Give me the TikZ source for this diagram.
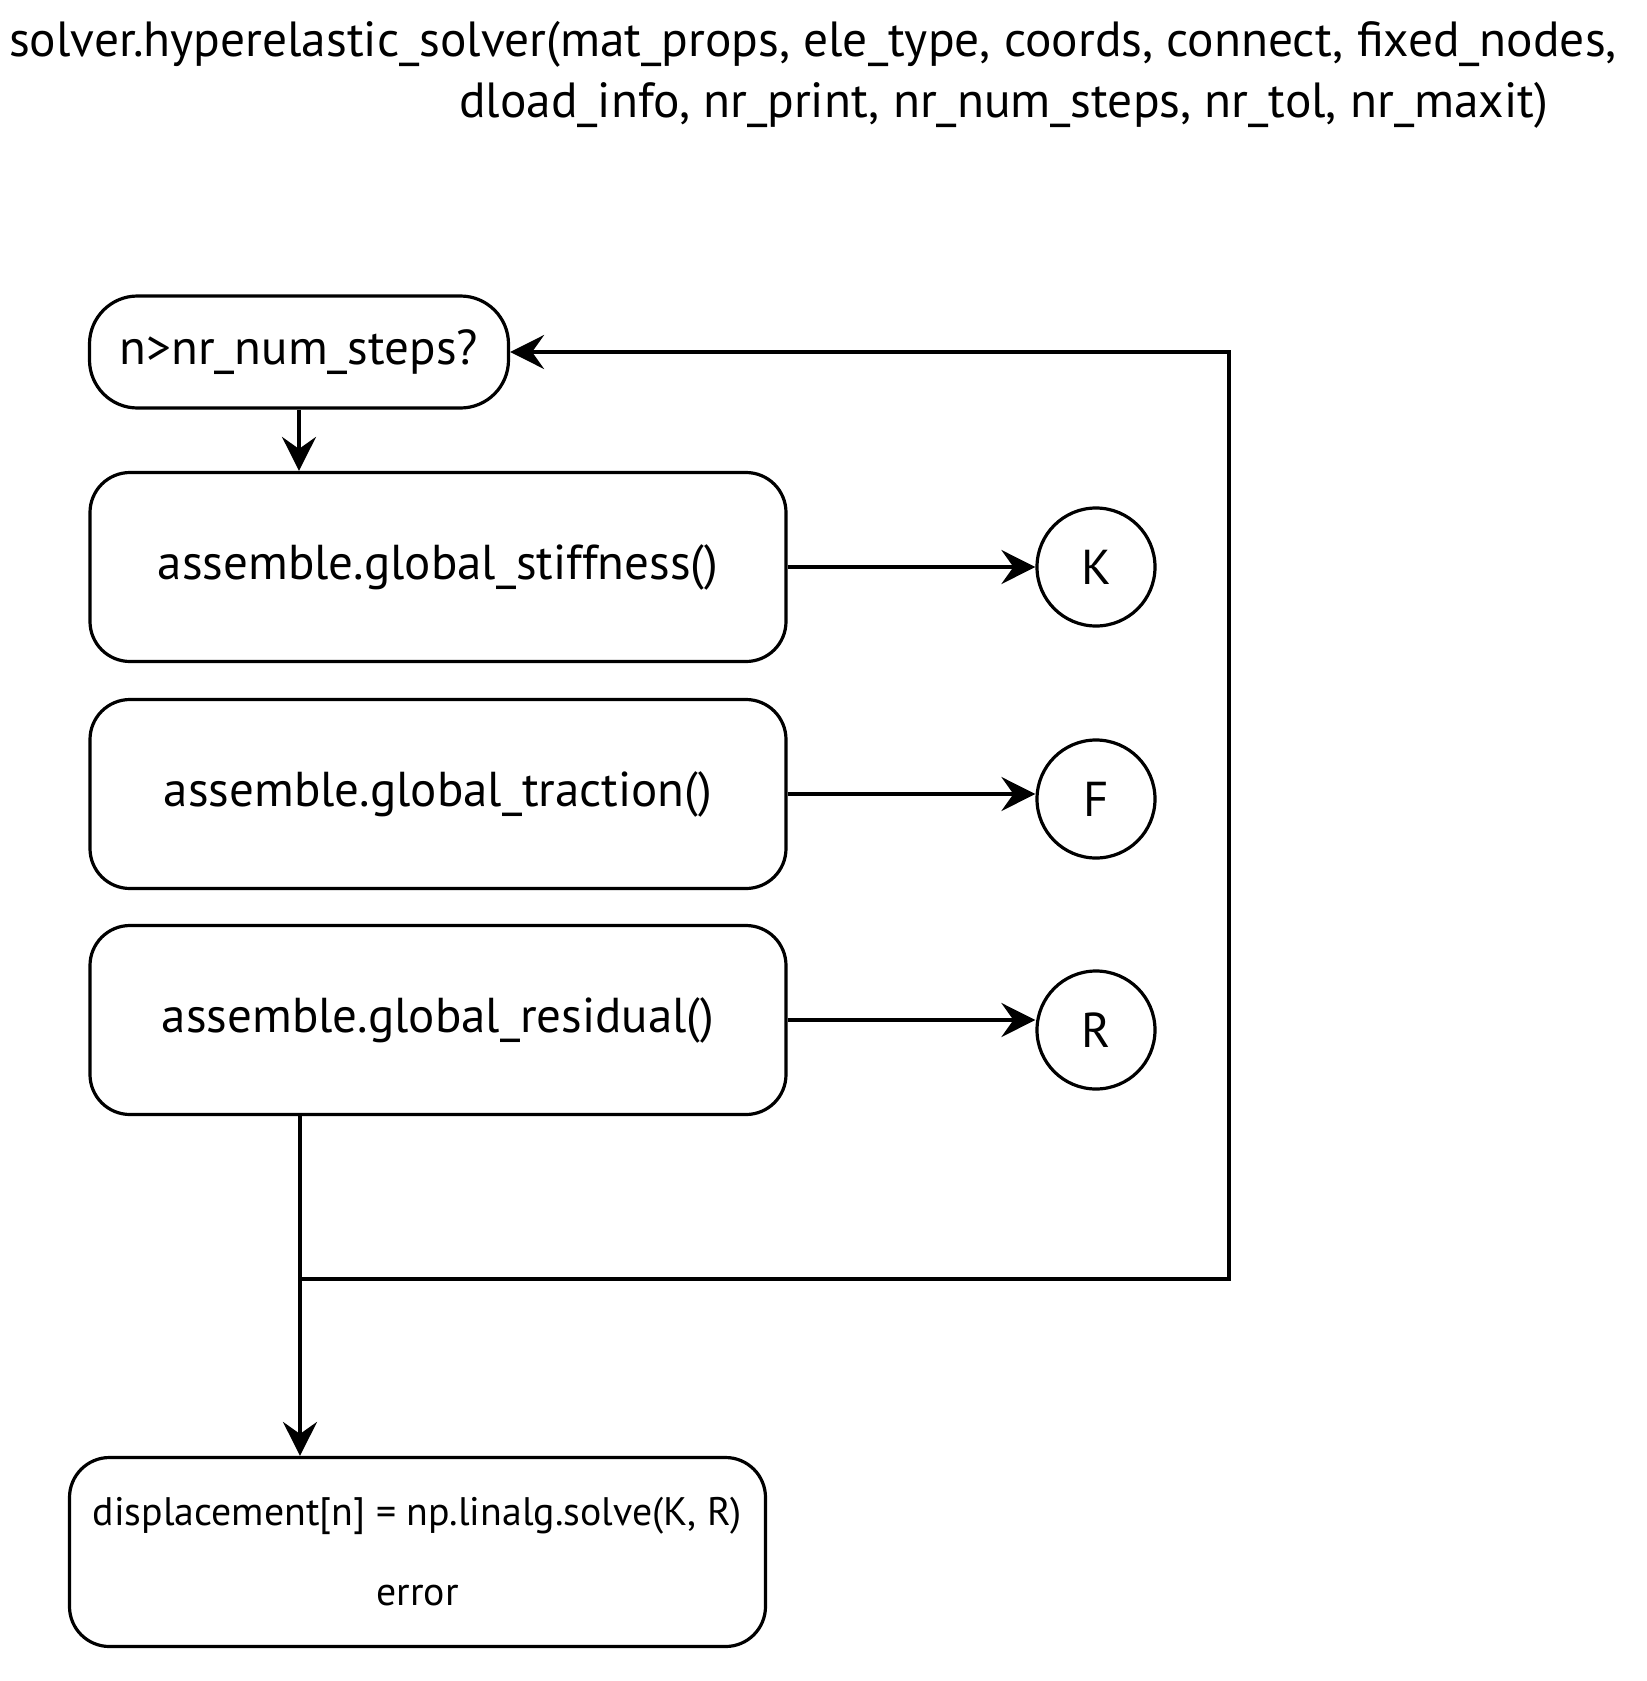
\documentclass[tikz,border=0pt]{standalone}
\usepackage{fontspec}
\setmainfont{PT Sans}
\usetikzlibrary{arrows.meta}

\tikzset{
  flowbox/.style={draw,line width=1.6pt,rounded corners=20pt,
    minimum width=348pt,minimum height=94.5pt,font=\fontsize{24.5}{29}\selectfont},
  outcirc/.style={draw,circle,line width=1.6pt,minimum size=59pt,
    font=\fontsize{24.5}{29}\selectfont},
  flow/.style={line width=1.6pt,-{Stealth[length=17pt,width=17pt,inset=6pt]}},
}

\begin{document}
\begin{tikzpicture}[x=0.5pt,y=-0.5pt]
  \useasboundingbox (0,0) rectangle (1646,1681);

  \node[anchor=west,font=\fontsize{24.7}{29}\selectfont] (title1) at (2,44)
    {solver.hyperelastic\_solver(mat\_props, ele\_type, coords, connect, fixed\_nodes,};
  \node[anchor=west,font=\fontsize{24.7}{29}\selectfont] (title2) at (452,105)
    {dload\_info, nr\_print, nr\_num\_steps, nr\_tol, nr\_maxit)};

  \node[flowbox,rounded corners=24pt,minimum width=209.5pt,minimum height=56pt] (test) at (299,352) {n>nr\_num\_steps?};
  \node[flowbox] (stiff) at (438,567) {assemble.global\_stiffness()};
  \node[flowbox] (trac) at (438,794) {assemble.global\_traction()};
  \node[flowbox] (resid) at (438,1020) {assemble.global\_residual()};

  \node[outcirc] (K) at (1096,567) {K};
  \node[outcirc] (F) at (1096,799) {F};
  \node[outcirc] (R) at (1096,1030) {R};

  \node[flowbox,align=center,font=\fontsize{19.9}{40}\selectfont] (solve) at (417.5,1552)
    {displacement[n] = np.linalg.solve(K, R)\\ error};

  \coordinate (jn) at (300,1279);
  \coordinate (back) at (1229,1279);

  \draw[flow] (test) -- (test |- stiff.north);
  \draw[flow] (stiff.east) -- (stiff.east -| K.west);
  \draw[flow] (trac.east) -- (trac.east -| F.west);
  \draw[flow] (resid.east) -- (resid.east -| R.west);
  \draw[flow] (resid.south -| jn) -- (solve.north -| jn);
  \draw[flow] (jn) -- (back) |- (test.east);
\end{tikzpicture}
\end{document}
